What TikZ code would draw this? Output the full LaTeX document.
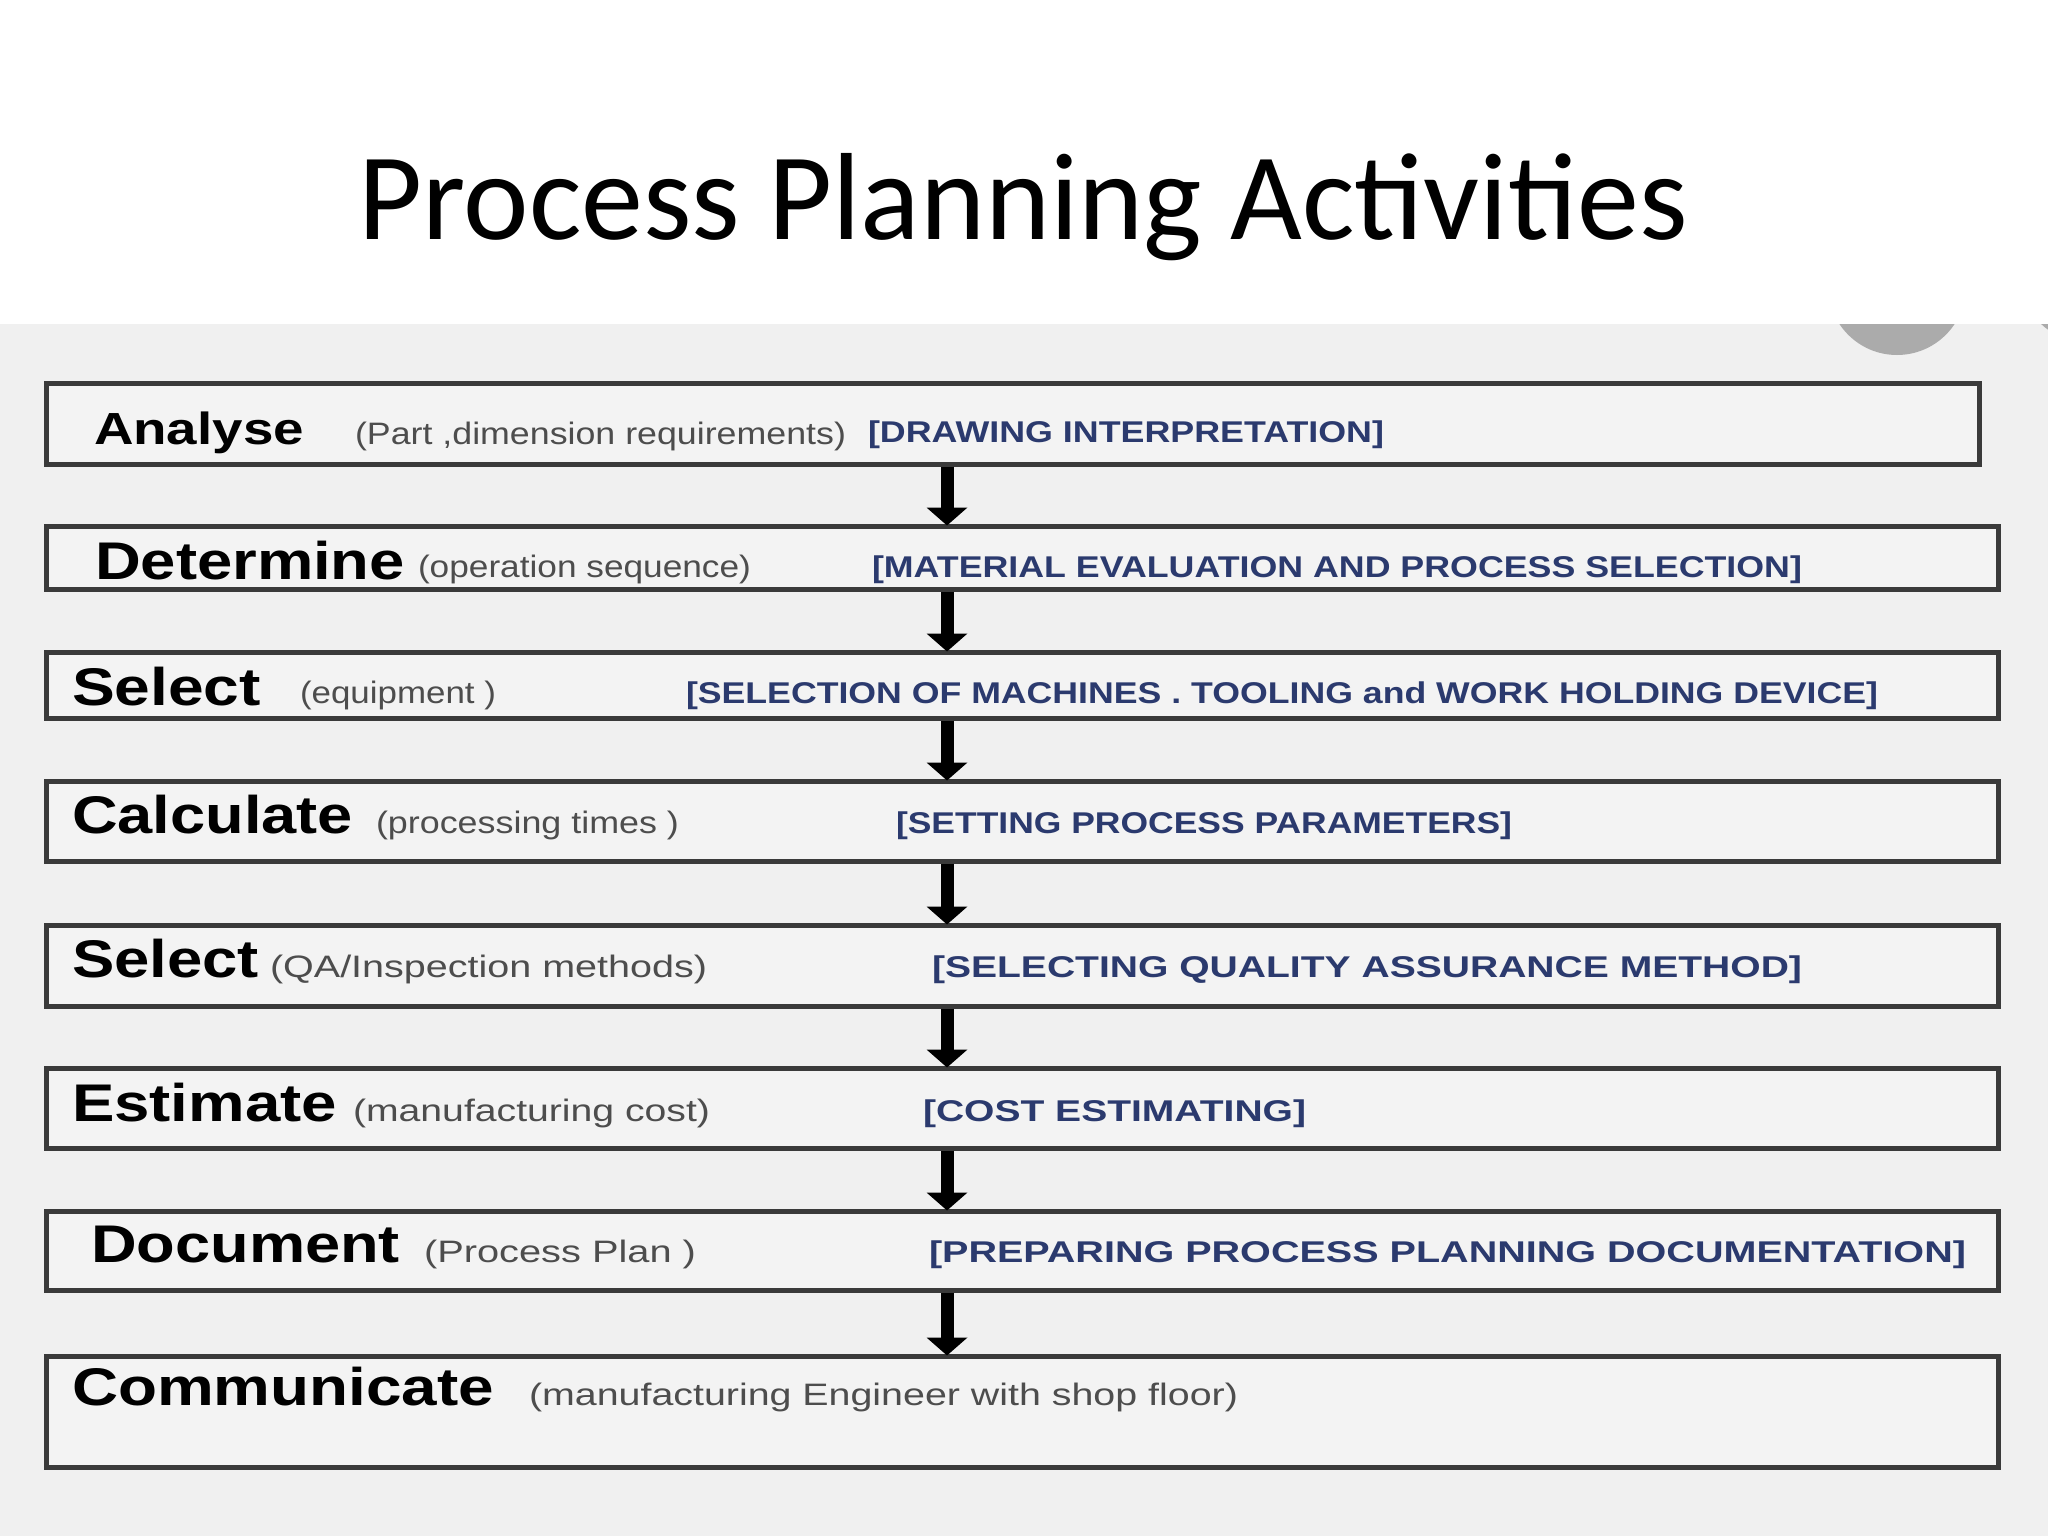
\documentclass[tikz,border=0pt]{standalone}
\usepackage{fontspec}
\usepackage{graphicx}
\setmainfont{Liberation Sans}
\newfontfamily\titlefont{Carlito}
\usetikzlibrary{arrows.meta}
\definecolor{bgg}{HTML}{F0F0F0}
\definecolor{boxf}{HTML}{F3F3F3}
\definecolor{boxl}{HTML}{3A3A3A}
\definecolor{navy}{HTML}{2B3A6E}
\definecolor{pgray}{HTML}{4D4D4D}
\definecolor{circg}{HTML}{ABABAB}
\newsavebox\fitbox
\newcommand\fitw[2]{\sbox\fitbox{#2}\pgfmathsetmacro\fitfac{#1/\the\wd\fitbox}\scalebox{\fitfac}[1]{\usebox\fitbox}}
\newcommand\mainw{\fontsize{53}{58}\selectfont\bfseries}
\newcommand\mainA{\fontsize{45}{50}\selectfont\bfseries}
\newcommand\parw{\fontsize{31}{34}\selectfont\color{pgray}}
\newcommand\brw{\fontsize{30}{34}\selectfont\bfseries\color{navy}}
\tikzset{
  stepbox/.style={draw=boxl, line width=5pt, fill=boxf, rectangle, inner sep=0pt},
  lbl/.style={anchor=base west, inner sep=0pt, outer sep=0pt},
  arr/.style={line width=13pt, draw=black, -{Triangle[width=40pt,length=18pt]}, shorten >=-2pt}
}
\begin{document}
\begin{tikzpicture}[x=1pt,y=-1pt]
\useasboundingbox (0,0) rectangle (2048,1536);
\fill[white] (0,0) rectangle (2048,324);
\fill[bgg] (0,324) rectangle (2048,1536);
% partial grey circles from the screenshot
\begin{scope}
\clip (0,324) rectangle (2048,1536);
\fill[circg] (1897,286) circle (69);
\fill[circg] (2075,290) circle (48);
\end{scope}
% title
\node[anchor=base, inner sep=0pt] (title) at (1023,239) {\titlefont\fontsize{124}{140}\selectfont Process Planning Activities};
% boxes
\node[stepbox, minimum width=1933pt, minimum height=81pt] (b1) at (1012.5,423.5) {};
\node[stepbox, minimum width=1952pt, minimum height=63pt] (b2) at (1022,557.5) {};
\node[stepbox, minimum width=1952pt, minimum height=66pt] (b3) at (1022,685) {};
\node[stepbox, minimum width=1952pt, minimum height=80pt] (b4) at (1022,821) {};
\node[stepbox, minimum width=1952pt, minimum height=81pt] (b5) at (1022,965.5) {};
\node[stepbox, minimum width=1952pt, minimum height=80pt] (b6) at (1022,1108) {};
\node[stepbox, minimum width=1952pt, minimum height=79pt] (b7) at (1022,1250.5) {};
\node[stepbox, minimum width=1952pt, minimum height=111pt] (b8) at (1022,1411.5) {};
% arrows
\coordinate (ax) at (947,0);
\draw[arr] (b1.south -| ax) -- (b2.north -| ax);
\draw[arr] (b2.south -| ax) -- (b3.north -| ax);
\draw[arr] (b3.south -| ax) -- (b4.north -| ax);
\draw[arr] (b4.south -| ax) -- (b5.north -| ax);
\draw[arr] (b5.south -| ax) -- (b6.north -| ax);
\draw[arr] (b6.south -| ax) -- (b7.north -| ax);
\draw[arr] (b7.south -| ax) -- (b8.north -| ax);
% row 1
\node[lbl] (t1a) at (94,444) {\fitw{210}{\mainA Analyse}};
\node[lbl] (t1b) at (355,444) {\fitw{491}{\parw (Part ,dimension requirements)}};
\node[lbl] (t1c) at (868,442) {\fitw{516}{\brw [DRAWING INTERPRETATION]}};
% row 2
\node[lbl] (t2a) at (95,579) {\fitw{310}{\mainw Determine}};
\node[lbl] (t2b) at (418,577) {\fitw{333}{\parw (operation sequence)}};
\node[lbl] (t2c) at (872,577) {\fitw{930}{\brw [MATERIAL EVALUATION AND PROCESS SELECTION]}};
% row 3
\node[lbl] (t3a) at (72,705) {\fitw{189}{\mainw Select}};
\node[lbl] (t3b) at (300,703) {\fitw{196}{\parw (equipment )}};
\node[lbl] (t3c) at (686,703) {\fitw{1192}{\brw [SELECTION OF MACHINES . TOOLING and WORK HOLDING DEVICE]}};
% row 4
\node[lbl] (t4a) at (72,833) {\fitw{281}{\mainw Calculate}};
\node[lbl] (t4b) at (376,833) {\fitw{303}{\parw (processing times )}};
\node[lbl] (t4c) at (896,833) {\fitw{616}{\brw [SETTING PROCESS PARAMETERS]}};
% row 5
\node[lbl] (t5a) at (72,977) {\fitw{187}{\mainw Select}};
\node[lbl] (t5b) at (270,977) {\fitw{437}{\parw (QA/Inspection methods)}};
\node[lbl] (t5c) at (932,977) {\fitw{870}{\brw [SELECTING QUALITY ASSURANCE METHOD]}};
% row 6
\node[lbl] (t6a) at (72,1121) {\fitw{265}{\mainw Estimate}};
\node[lbl] (t6b) at (353,1121) {\fitw{357}{\parw (manufacturing cost)}};
\node[lbl] (t6c) at (923,1121) {\fitw{383}{\brw [COST ESTIMATING]}};
% row 7
\node[lbl] (t7a) at (91,1262) {\fitw{309}{\mainw Document}};
\node[lbl] (t7b) at (424,1262) {\fitw{272}{\parw (Process Plan )}};
\node[lbl] (t7c) at (929,1262) {\fitw{1037}{\brw [PREPARING PROCESS PLANNING DOCUMENTATION]}};
% row 8
\node[lbl] (t8a) at (72,1405) {\fitw{422}{\mainw Communicate}};
\node[lbl] (t8b) at (529,1405) {\fitw{709}{\parw (manufacturing Engineer with shop floor)}};
\end{tikzpicture}
\end{document}
